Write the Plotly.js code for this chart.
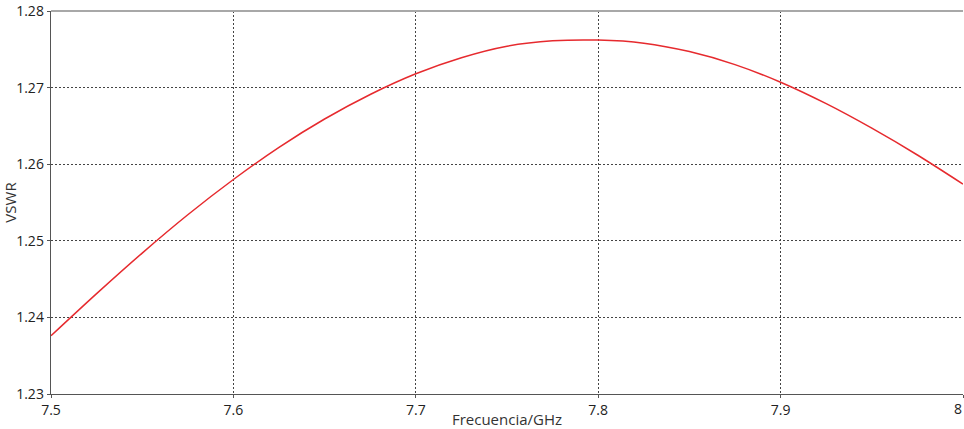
<!DOCTYPE html>
<html>
<head>
<meta charset="utf-8">
<script src="https://cdn.plot.ly/plotly-3.0.1.min.js"></script>
<style>html,body{margin:0;padding:0;background:#fff;}#chart{width:964px;height:429px;}</style>
</head>
<body>
<div id="chart"></div>
<script>
const freqGHz = [7.500, 7.525, 7.550, 7.575, 7.600, 7.625, 7.650, 7.675, 7.700, 7.725, 7.750, 7.775, 7.800, 7.825, 7.850, 7.875, 7.900, 7.925, 7.950, 7.975, 8.000];
const vswr    = [1.2376, 1.2431, 1.2484, 1.2534, 1.2580, 1.2622, 1.2659, 1.2691, 1.2718, 1.2739, 1.2754, 1.2761, 1.2762, 1.2758, 1.2747, 1.2730, 1.2707, 1.2679, 1.2647, 1.2612, 1.2574];
const xTicks = [7.5, 7.6, 7.7, 7.8, 7.9, 8];
const xTickLabels = ['7.5', '7.6', '7.7', '7.8', '7.9', '8'];
const yTicks = [1.23, 1.24, 1.25, 1.26, 1.27, 1.28];
const yTickLabels = ['1.23', '1.24', '1.25', '1.26', '1.27', '1.28'];

const font = 'Open Sans, Lato, DejaVu Sans, sans-serif';
const trace = {
  x: freqGHz, y: vswr, type: 'scatter', mode: 'lines',
  line: {color: '#e62a2e', width: 1.5, shape: 'spline', smoothing: 0.8}
};
const lastX = xTicks[xTicks.length - 1];
const layout = {
  width: 964, height: 429,
  margin: {l: 51, r: 1, t: 11, b: 35, pad: 0},
  paper_bgcolor: '#fff', plot_bgcolor: '#fff',
  showlegend: false,
  font: {family: font, size: 14, color: '#222'},
  xaxis: {
    range: [7.5, 8], tickmode: 'array', tickvals: xTicks, ticktext: xTickLabels,
    showgrid: true, gridcolor: '#444', gridwidth: 1, griddash: '2px,2px',
    showline: true, linecolor: '#555', linewidth: 1.3,
    ticks: 'outside', ticklen: 3, tickcolor: '#555',
    zeroline: false, automargin: false,
    title: {text: 'Frecuencia/GHz', font: {family: font, size: 15, color: '#333'}, standoff: 2}
  },
  yaxis: {
    range: [1.23, 1.28], tickmode: 'array', tickvals: yTicks, ticktext: yTickLabels,
    showgrid: true, gridcolor: '#444', gridwidth: 1, griddash: '2px,2px',
    showline: true, linecolor: '#555', linewidth: 1.3,
    ticks: 'outside', ticklen: 3, tickcolor: '#555',
    zeroline: false, automargin: false,
    title: {text: 'VSWR', font: {family: font, size: 15, color: '#333'}, standoff: 4}
  },
  annotations: [{x: lastX, xref: 'x', y: 0, yref: 'paper', yanchor: 'top', xanchor: 'right',
                 yshift: -3, xshift: 1, showarrow: false, text: xTickLabels[xTickLabels.length - 1],
                 font: {family: font, size: 14, color: '#222'}}],
  shapes: [{type: 'line', xref: 'paper', yref: 'paper', x0: 0, x1: 1, y0: 1, y1: 1,
            line: {color: '#a8a8a8', width: 2}}]
};
Plotly.newPlot('chart', [trace], layout, {displayModeBar: false, staticPlot: true});
</script>
</body>
</html>
